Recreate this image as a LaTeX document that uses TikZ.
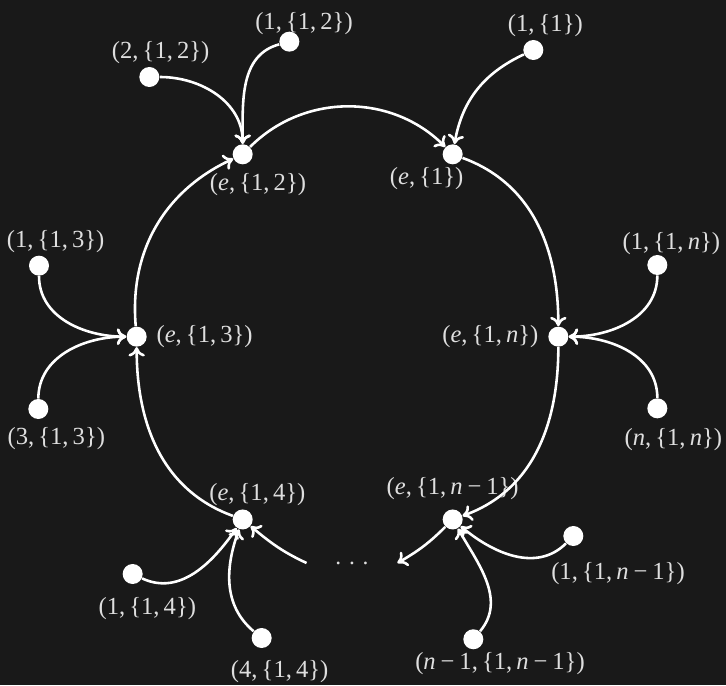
\documentclass[tikz,border=0pt]{standalone}
\usepackage{fontspec}
\setmainfont{Liberation Serif}
\usetikzlibrary{arrows.meta}

\definecolor{bgdark}{RGB}{25,25,25}
\definecolor{lbl}{RGB}{222,222,222}

% etiquettes (texte en Times)
\newcommand{\vx}[2]{(\textit{#1},\,\{#2\})}
\newcommand{\ic}[1]{\textit{#1}}
\newcommand{\mn}{\kern0.2em−\kern0.2em}

\tikzset{
  pt/.style={circle, fill=white, draw=none, minimum size=0.3cm, inner sep=0pt},
  every label/.style={text=lbl, inner sep=1pt, font=\fontsize{10.5pt}{12pt}\selectfont},
  flow/.style={draw=white, line width=1.1pt, -{Computer Modern Rightarrow[length=4pt,width=7pt]}},
}

\begin{document}
\begin{tikzpicture}
  % fond
  \fill[bgdark] (0,0) rectangle (10.89,10.275);
  \useasboundingbox (0,0) rectangle (10.89,10.275);

  % sommets du cycle
  \node[pt, label={[xshift=0.23cm,yshift=-0.08cm]below:\vx{e}{1,\,2}}] (e12) at (3.64,7.96) {};
  \node[pt, label={[xshift=-0.39cm]below:\vx{e}{1}}] (e1) at (6.79,7.96) {};
  \node[pt, label={[xshift=0.1cm]right:\vx{e}{1,\,3}}] (e13) at (2.05,5.225) {};
  \node[pt, label={[xshift=-0.1cm]left:\vx{e}{1,\,\ic{n}}}] (e1n) at (8.375,5.225) {};
  \node[pt, label={[xshift=0.22cm]above:\vx{e}{1,\,4}}] (e14) at (3.64,2.483) {};
  \node[pt, label={[yshift=0.1cm]above:\vx{e}{1,\,\ic{n}\mn1}}] (e1n1) at (6.79,2.483) {};
  \node[minimum width=1.35cm, inner sep=0pt, text=lbl] (dd) at (5.28,1.83) {.\,\,.\,\,.};

  % feuilles
  \node[pt, label={[xshift=0.17cm]above:(2,\,\{1,\,2\})}] (l212) at (2.24,9.12) {};
  \node[pt, label={[xshift=0.22cm,yshift=-0.09cm]above:(1,\,\{1,\,2\})}] (l112) at (4.34,9.65) {};
  \node[pt, label={[xshift=0.18cm]above:(1,\,\{1\})}] (l11) at (8.0,9.525) {};
  \node[pt, label={[xshift=0.25cm]above:(1,\,\{1,\,3\})}] (l113) at (0.585,6.29) {};
  \node[pt, label={[xshift=0.27cm,yshift=-0.07cm]below:(3,\,\{1,\,3\})}] (l313) at (0.575,4.14) {};
  \node[pt, label={[xshift=0.21cm,yshift=-0.04cm]above:(1,\,\{1,\,\ic{n}\})}] (l11n) at (9.86,6.3) {};
  \node[pt, label={[xshift=0.24cm,yshift=-0.1cm]below:\vx{n}{1,\,\ic{n}}}] (lnn) at (9.86,4.15) {};
  \node[pt, label={[xshift=0.22cm,yshift=-0.15cm]below:(1,\,\{1,\,4\})}] (l114) at (1.99,1.665) {};
  \node[pt, label={[xshift=0.27cm,yshift=-0.13cm]below:(4,\,\{1,\,4\})}] (l414) at (3.925,0.705) {};
  \node[pt, label={[xshift=0.67cm,yshift=-0.2cm]below:(1,\,\{1,\,\ic{n}\mn1\})}] (l11n1) at (8.6,2.235) {};
  \node[pt, label={[xshift=0.4cm]below:(\ic{n}\mn1,\,\{1,\,\ic{n}\mn1\})}] (ln1) at (7.1,0.686) {};

  % cycle
  \draw[flow] (e12) to[out=45,in=135] (e1);
  \draw[flow] (e1) to[out=-20,in=90] (e1n);
  \draw[flow] (e1n) to[out=-90,in=20] (e1n1);
  \draw[flow] (e1n1) to[out=225,in=30] (dd.east);
  \draw[flow] (dd.west) to[out=155,in=-40] (e14);
  \draw[flow] (e14) to[out=160,in=-90] (e13);
  \draw[flow] (e13) to[out=95,in=205] (e12);

  % aretes entrantes
  \draw[flow] (l212) to[out=0,in=90] (e12);
  \draw[flow] (l112) to[out=195,in=90] (e12);
  \draw[flow] (l11) to[out=205,in=80] (e1);
  \draw[flow] (l113) to[out=270,in=180] (e13);
  \draw[flow] (l313) to[out=90,in=180] (e13);
  \draw[flow] (l11n) to[out=270,in=0] (e1n);
  \draw[flow] (lnn) to[out=90,in=0] (e1n);
  \draw[flow] (l114) to[out=-25,in=235] (e14);
  \draw[flow] (l414) to[out=140,in=250] (e14);
  \draw[flow] (l11n1) to[out=225,in=-40] (e1n1);
  \draw[flow] (ln1) to[out=50,in=-60] (e1n1);
\end{tikzpicture}
\end{document}
